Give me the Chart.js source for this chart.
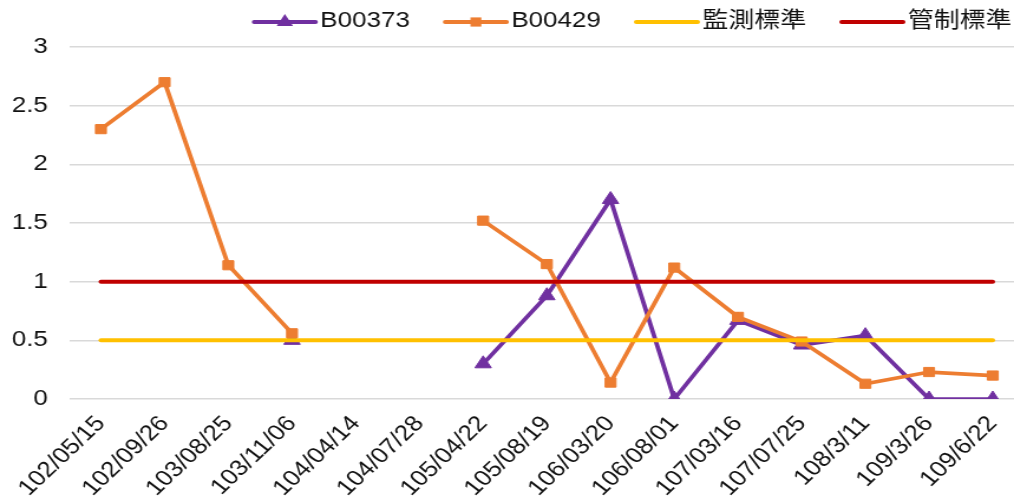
<!DOCTYPE html>
<html>
<head>
<meta charset="utf-8">
<script src="https://cdn.jsdelivr.net/npm/chart.js@4/dist/chart.umd.min.js"></script>
<style>
  html, body { margin: 0; padding: 0; background: #fff; overflow: hidden; width: 1014px; height: 503px; }
  #wrap { width: 868px; height: 503px; transform: scaleX(1.18044); transform-origin: 0 0; }
  canvas { display: block; }
</style>
</head>
<body>
<div id="wrap"><canvas id="c" width="868" height="503"></canvas></div>
<script>
// Sampling dates (ROC calendar)
const categories = ['102/05/15', '102/09/26', '103/08/25', '103/11/06', '104/04/14', '104/07/28',
  '105/04/22', '105/08/19', '106/03/20', '106/08/01', '107/03/16', '107/07/25', '108/3/11', '109/3/26', '109/6/22'];
// Well B00373 readings (null = not sampled)
const b00373 = [null, null, null, 0.5, null, null, 0.30, 0.88, 1.70, 0, 0.67, 0.46, 0.54, 0, 0];
// Well B00429 readings
const b00429 = [2.3, 2.7, 1.14, 0.56, null, null, 1.52, 1.15, 0.14, 1.12, 0.70, 0.49, 0.13, 0.23, 0.20];
// Reference levels
const monitorLevel = 0.5;   // 監測標準
const controlLevel = 1.0;   // 管制標準
const yTicks = [0, 0.5, 1, 1.5, 2, 2.5, 3];

const FONT = "'Liberation Sans', Arial, 'Noto Sans CJK TC', sans-serif";
const TEXT = '#111';

// Legend drawn as line + marker samples, right aligned at the top
const lineLegend = {
  id: 'lineLegend',
  afterDraw(chart) {
    const ctx = chart.ctx;
    const ds = chart.data.datasets;
    const lineLen = 52, gapText = 4, gapItem = 30, right = 857, yMid = 21;
    ctx.save();
    ctx.font = '22px ' + FONT;
    ctx.textBaseline = 'middle';
    ctx.textAlign = 'left';
    const widths = ds.map(d => ctx.measureText(d.label).width);
    let total = 0;
    widths.forEach((w, i) => { total += lineLen + gapText + w + (i < ds.length - 1 ? gapItem : 0); });
    let x = right - total;
    ds.forEach((d, i) => {
      ctx.strokeStyle = d.borderColor;
      ctx.lineWidth = 4;
      ctx.lineCap = 'round';
      ctx.beginPath();
      ctx.moveTo(x, yMid + 1);
      ctx.lineTo(x + lineLen, yMid + 1);
      ctx.stroke();
      const cx = x + lineLen / 2, cy = yMid + 1, r = d.pointRadius;
      ctx.fillStyle = d.borderColor;
      if (d.pointStyle === 'triangle' && r > 0) {
        ctx.beginPath();
        ctx.moveTo(cx, cy - r);
        ctx.lineTo(cx + r * 0.866, cy + r * 0.5);
        ctx.lineTo(cx - r * 0.866, cy + r * 0.5);
        ctx.closePath();
        ctx.fill();
      } else if (d.pointStyle === 'rect' && r > 0) {
        const h = r * Math.SQRT1_2;
        ctx.fillRect(cx - h, cy - h, 2 * h, 2 * h);
      }
      ctx.fillStyle = TEXT;
      ctx.fillText(d.label, x + lineLen + gapText, yMid);
      x += lineLen + gapText + widths[i] + gapItem;
    });
    ctx.restore();
  }
};

new Chart(document.getElementById('c'), {
  type: 'line',
  data: {
    labels: categories,
    datasets: [
      {
        label: 'B00373', data: b00373, order: 4,
        borderColor: '#7030A0', backgroundColor: '#7030A0', borderWidth: 3.75,
        pointStyle: 'triangle', pointRadius: 8, pointBorderWidth: 1, pointHoverRadius: 8,
        spanGaps: false, tension: 0
      },
      {
        label: 'B00429', data: b00429, order: 3,
        borderColor: '#ED7D31', backgroundColor: '#ED7D31', borderWidth: 3.75,
        pointStyle: 'rect', pointRadius: 6.5, pointBorderWidth: 1, pointHoverRadius: 6.5,
        spanGaps: false, tension: 0
      },
      {
        label: '監測標準', data: categories.map(() => monitorLevel), order: 2,
        borderColor: '#FFC000', backgroundColor: '#FFC000', borderWidth: 4,
        pointRadius: 0, pointHoverRadius: 0, borderCapStyle: 'round'
      },
      {
        label: '管制標準', data: categories.map(() => controlLevel), order: 1,
        borderColor: '#C00000', backgroundColor: '#C00000', borderWidth: 4,
        pointRadius: 0, pointHoverRadius: 0, borderCapStyle: 'round'
      }
    ]
  },
  options: {
    responsive: false,
    animation: false,
    devicePixelRatio: 1,
    layout: { autoPadding: false, padding: { top: 47, right: 0, bottom: 0, left: 0 } },
    plugins: { legend: { display: false }, tooltip: { enabled: false } },
    scales: {
      x: {
        offset: true,
        grid: { display: false },
        border: { display: false },
        ticks: {
          autoSkip: false, minRotation: 48, maxRotation: 48, padding: 4,
          color: TEXT, font: { family: FONT, size: 22 }
        },
        afterFit(s) { s.height = 104; s.paddingRight = -100; s.paddingLeft = 0; }
      },
      y: {
        min: 0, max: 3,
        afterBuildTicks(s) { s.ticks = yTicks.map(v => ({ value: v })); },
        grid: { color: '#d9d9d9', lineWidth: 1.5, drawTicks: false },
        border: { display: false },
        ticks: {
          padding: 18, color: TEXT, font: { family: FONT, size: 22 },
          callback: v => String(v)
        },
        afterFit(s) { s.width = 58.5; }
      }
    }
  },
  plugins: [lineLegend]
});
</script>
</body>
</html>
